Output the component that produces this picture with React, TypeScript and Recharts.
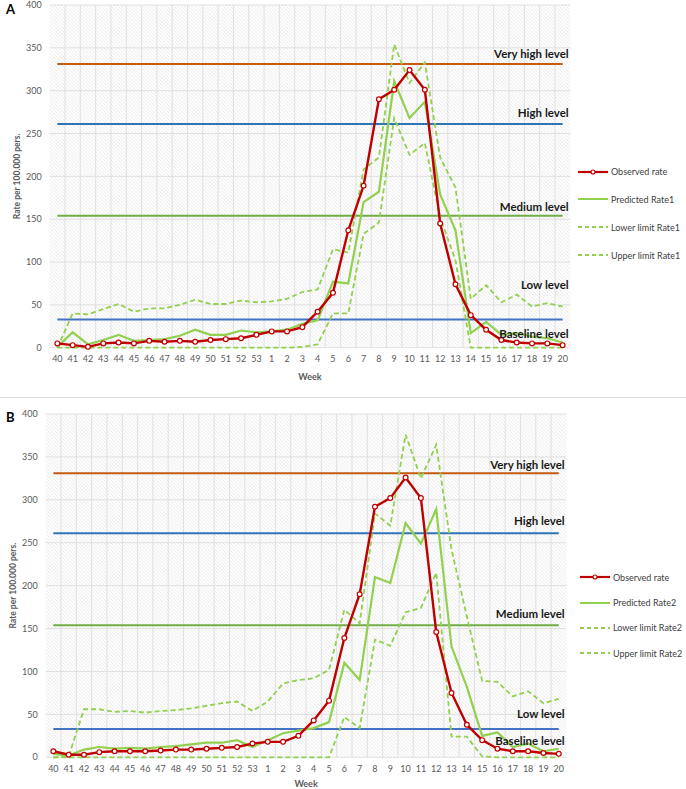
import React from 'react';
import { LineChart, Line, XAxis, YAxis, CartesianGrid } from 'recharts';

const weeks = [
  '40', '41', '42', '43', '44', '45', '46', '47', '48', '49', '50', '51', '52', '53',
  '1', '2', '3', '4', '5', '6', '7', '8', '9', '10', '11', '12', '13', '14', '15', '16', '17', '18', '19', '20',
];

const observedA = [5, 3, 1, 5, 6, 5, 8, 7, 8, 7, 9, 10, 11, 15, 19, 19, 24, 42, 64, 137, 189, 290, 301, 324, 301, 145, 74, 38, 21, 9, 6, 5, 5, 3];
const predictedA = [1, 18, 4, 9, 15, 8, 9, 10, 14, 21, 15, 15, 20, 18, 19, 21, 28, 32, 77, 75, 170, 182, 311, 268, 287, 179, 137, 17, 30, 15, 17, 13, 11, 6];
const lowerA = [0, 0, 0, 0, 0, 0, 0, 0, 0, 0, 0, 0, 0, 0, 0, 0, 1, 4, 40, 40, 133, 146, 268, 225, 239, 152, 102, 0, 0, 0, 0, 0, 0, 0];
const upperA = [0, 40, 39, 45, 51, 42, 46, 46, 50, 56, 51, 51, 55, 53, 54, 57, 65, 68, 115, 111, 208, 222, 354, 309, 333, 222, 187, 57, 73, 53, 62, 48, 52, 48];

const observedB = [7, 3, 3, 6, 7, 7, 7, 8, 9, 9, 10, 11, 12, 16, 18, 18, 25, 43, 66, 139, 190, 292, 302, 326, 302, 146, 75, 38, 20, 10, 7, 7, 5, 4];
const predictedB = [4, 2, 9, 12, 10, 11, 10, 12, 13, 15, 17, 17, 20, 12, 20, 28, 31, 34, 41, 110, 90, 210, 203, 273, 249, 289, 129, 82, 25, 29, 12, 16, 7, 10];
const lowerB = [0, 0, 0, 0, 0, 0, 0, 0, 0, 0, 0, 0, 0, 0, 0, 0, 0, 0, 0, 47, 34, 137, 130, 169, 174, 215, 24, 24, 1, 0, 0, 0, 0, 0];
const upperB = [0, 1, 56, 56, 53, 54, 52, 54, 55, 57, 60, 63, 65, 54, 65, 86, 90, 92, 102, 172, 156, 284, 270, 376, 325, 364, 242, 164, 89, 88, 71, 77, 63, 68];

const levelValues = [331, 261, 154, 33];
const levelNames = ['Very high level', 'High level', 'Medium level', 'Low level'];
const levelColors = ['#c55a11', '#2e75b6', '#70ad47', '#4472c4'];
const yTicks = [0, 50, 100, 150, 200, 250, 300, 350, 400];

const RED = '#c00000';
const GREEN = '#92d050';
const FONT = 'Lato, "Open Sans", sans-serif';

function buildRows(obs: number[], pred: number[], lo: number[], up: number[]) {
  return weeks.map((w, i) => ({
    week: w,
    observed: obs[i],
    predicted: pred[i],
    lower: lo[i],
    upper: up[i],
    l0: levelValues[0],
    l1: levelValues[1],
    l2: levelValues[2],
    l3: levelValues[3],
  }));
}

type PanelProps = {
  letter: string;
  rateName: string;
  rows: any[];
  top: number;
  height: number;
  margin: { top: number; right: number; bottom: number; left: number };
  labelOffsets: number[];
  baselineOffset: number;
  weekDy: number;
  legendTop: number;
  legendGap: number;
  legendLeft: number;
};

function levelLabel(idx: number, p: PanelProps) {
  return (props: any) => {
    if (props.index !== weeks.length - 1) return null;
    const x = props.x + 6;
    const style = { fontFamily: FONT, fontWeight: 700, fontSize: 11.5, fill: '#1a1a1a' };
    return (
      <g key={'lab' + idx}>
        <text x={x} y={props.y - p.labelOffsets[idx]} dy="0.35em" textAnchor="end" {...style}>
          {levelNames[idx]}
        </text>
        {idx === 3 && (
          <text x={x} y={props.y + p.baselineOffset} dy="0.35em" textAnchor="end" {...style}>
            Baseline level
          </text>
        )}
      </g>
    );
  };
}

function Panel(p: PanelProps) {
  const seriesNames = ['Observed rate', 'Predicted ' + p.rateName, 'Lower limit ' + p.rateName, 'Upper limit ' + p.rateName];
  const plotW = 686 - p.margin.left - p.margin.right - 40;
  const halfBand = plotW / weeks.length / 2;
  return (
    <div style={{ position: 'absolute', left: 0, top: p.top, width: 686, height: p.height }}>
      <div style={{ position: 'absolute', left: 6, top: p.letter === 'A' ? 1 : 12, fontFamily: FONT, fontWeight: 700, fontSize: 13 }}>
        {p.letter}
      </div>
      <LineChart width={686} height={p.height} data={p.rows} margin={p.margin}>
        <CartesianGrid
          fill="url(#hatch)"
          stroke="#d9d9d9"
          strokeWidth={0.8}
          verticalCoordinatesGenerator={({ offset }: any) =>
            weeks.map((_, i) => offset.left + (i * offset.width) / weeks.length).slice(1)
          }
        />
        <XAxis
          dataKey="week"
          axisLine={false}
          tickLine={false}
          interval={0}
          padding={{ left: halfBand, right: halfBand }}
          tick={{ fontFamily: FONT, fontSize: 9, fill: '#595959' }}
          label={{
            content: ({ viewBox }: any) => (
              <text
                x={viewBox.x + viewBox.width / 2}
                y={viewBox.y + p.weekDy}
                dy="0.35em"
                textAnchor="middle"
                fontFamily={FONT}
                fontWeight={700}
                fontSize={9}
                fill="#595959"
              >
                Week
              </text>
            ),
          }}
        />
        <YAxis
          width={40}
          domain={[0, 400]}
          ticks={yTicks}
          axisLine={false}
          tickLine={false}
          interval={0}
          tick={{ fontFamily: FONT, fontSize: 9, fill: '#595959' }}
          label={{
            content: ({ viewBox }: any) => {
              const cx = viewBox.x + 7;
              const cy = viewBox.y + viewBox.height / 2;
              return (
                <text
                  x={cx}
                  y={cy}
                  dy="0.35em"
                  textAnchor="middle"
                  transform={`rotate(-90 ${cx} ${cy})`}
                  fontFamily={FONT}
                  fontWeight={700}
                  fontSize={8.5}
                  fill="#595959"
                >
                  Rate per 100.000 pers.
                </text>
              );
            },
          }}
        />
        {levelValues.map((_, i) => (
          <Line
            key={'lvl' + i}
            dataKey={'l' + i}
            stroke={levelColors[i]}
            strokeWidth={2}
            dot={false}
            activeDot={false}
            isAnimationActive={false}
            label={levelLabel(i, p)}
          />
        ))}
        <Line dataKey="upper" stroke={GREEN} strokeWidth={1.8} strokeDasharray="5 3" dot={false} isAnimationActive={false} />
        <Line dataKey="lower" stroke={GREEN} strokeWidth={1.8} strokeDasharray="5 3" dot={false} isAnimationActive={false} />
        <Line dataKey="predicted" stroke={GREEN} strokeWidth={2.2} dot={false} isAnimationActive={false} />
        <Line
          dataKey="observed"
          stroke={RED}
          strokeWidth={2.4}
          dot={{ r: 2.4, fill: '#fff', stroke: RED, strokeWidth: 1.2 }}
          isAnimationActive={false}
        />
      </LineChart>
      <div style={{ position: 'absolute', left: p.legendLeft, top: p.legendTop, fontFamily: FONT, fontSize: 9, color: '#404040' }}>
        {seriesNames.map((name, i) => (
          <div key={name} style={{ display: 'flex', alignItems: 'center', height: p.legendGap }}>
            <svg width={32} height={8} style={{ marginRight: 2 }}>
              <line
                x1={1}
                y1={4}
                x2={31}
                y2={4}
                stroke={i === 0 ? RED : GREEN}
                strokeWidth={i === 0 ? 2.2 : 2}
                strokeDasharray={i >= 2 ? '4 3' : undefined}
              />
              {i === 0 && <circle cx={16} cy={4} r={2} fill="#fff" stroke={RED} strokeWidth={1.1} />}
            </svg>
            <span>{name}</span>
          </div>
        ))}
      </div>
    </div>
  );
}

export default function App() {
  const rowsA = buildRows(observedA, predictedA, lowerA, upperA);
  const rowsB = buildRows(observedB, predictedB, lowerB, upperB);
  return (
    <div style={{ position: 'absolute', left: 0, top: 0, width: 686, height: 789, background: '#fff', overflow: 'hidden' }}>
      <svg width={0} height={0} style={{ position: 'absolute' }}>
        <defs>
          <pattern id="hatch" patternUnits="userSpaceOnUse" width={3.5} height={3.5}>
            <rect width={3.5} height={3.5} fill="#ffffff" />
            <path d="M-1,-1 L4.5,4.5 M2.5,-1 L4.5,1 M-1,2.5 L1,4.5" stroke="#e3e3e3" strokeWidth={0.8} />
          </pattern>
        </defs>
      </svg>
      <Panel
        letter="A"
        rateName="Rate1"
        rows={rowsA}
        top={0}
        height={397}
        margin={{ top: 5, right: 115.7, bottom: 19.3, left: 9.7 }}
        labelOffsets={[10.6, 11.3, 9, 34]}
        baselineOffset={15}
        weekDy={29}
        legendTop={157.8}
        legendGap={27.8}
        legendLeft={577}
      />
      <div style={{ position: 'absolute', left: 0, top: 396.5, width: 686, height: 1.5, background: '#dcdcdc' }} />
      <Panel
        letter="B"
        rateName="Rate2"
        rows={rowsB}
        top={397}
        height={392}
        margin={{ top: 17, right: 119.6, bottom: 1.7, left: 5.7 }}
        labelOffsets={[8.4, 12, 10.7, 15]}
        baselineOffset={12.4}
        weekDy={26.5}
        legendTop={167.6}
        legendGap={25.3}
        legendLeft={579}
      />
    </div>
  );
}
